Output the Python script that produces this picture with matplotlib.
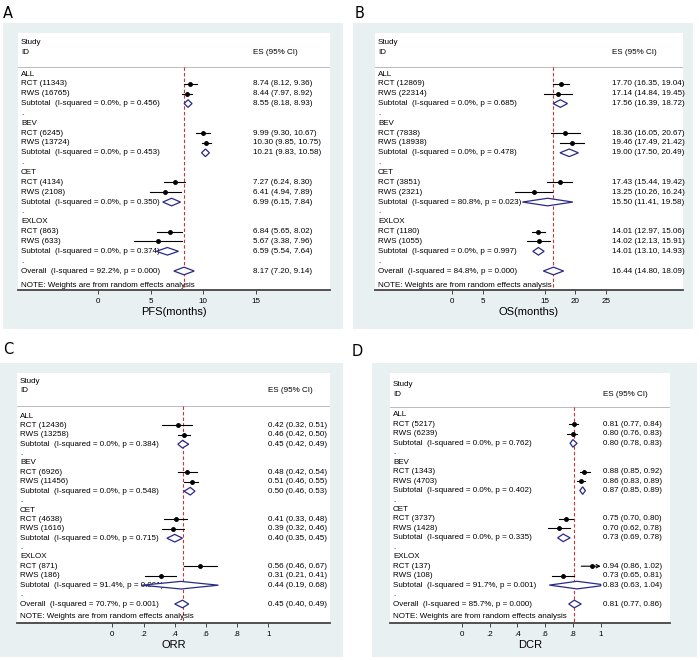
import matplotlib
matplotlib.use('Agg')
import matplotlib.pyplot as plt
from matplotlib import font_manager
from matplotlib.patches import Rectangle, Polygon

groups = ['ALL', 'BEV', 'CET', 'EXLOX']

# A: PFS (months)
pfs_rct_n = [11343, 6245, 4134, 863]
pfs_rws_n = [16765, 13724, 2108, 633]
pfs_rct = [(8.74, 8.12, 9.36), (9.99, 9.30, 10.67), (7.27, 6.24, 8.30), (6.84, 5.65, 8.02)]
pfs_rws = [(8.44, 7.97, 8.92), (10.30, 9.85, 10.75), (6.41, 4.94, 7.89), (5.67, 3.38, 7.96)]
pfs_sub = [(8.55, 8.18, 8.93), (10.21, 9.83, 10.58), (6.99, 6.15, 7.84), (6.59, 5.54, 7.64)]
pfs_sub_i2 = [0.0, 0.0, 0.0, 0.0]
pfs_sub_p = [0.456, 0.453, 0.350, 0.374]
pfs_overall = (8.17, 7.20, 9.14)
pfs_overall_i2, pfs_overall_p = 92.2, 0.000

# B: OS (months)
os_rct_n = [12869, 7838, 3851, 1180]
os_rws_n = [22314, 18938, 2321, 1055]
os_rct = [(17.70, 16.35, 19.04), (18.36, 16.05, 20.67), (17.43, 15.44, 19.42), (14.01, 12.97, 15.06)]
os_rws = [(17.14, 14.84, 19.45), (19.46, 17.49, 21.42), (13.25, 10.26, 16.24), (14.02, 12.13, 15.91)]
os_sub = [(17.56, 16.39, 18.72), (19.00, 17.50, 20.49), (15.50, 11.41, 19.58), (14.01, 13.10, 14.93)]
os_sub_i2 = [0.0, 0.0, 80.8, 0.0]
os_sub_p = [0.685, 0.478, 0.023, 0.997]
os_overall = (16.44, 14.80, 18.09)
os_overall_i2, os_overall_p = 84.8, 0.000

# C: ORR
orr_rct_n = [12436, 6926, 4638, 871]
orr_rws_n = [13258, 11456, 1616, 186]
orr_rct = [(0.42, 0.32, 0.51), (0.48, 0.42, 0.54), (0.41, 0.33, 0.48), (0.56, 0.46, 0.67)]
orr_rws = [(0.46, 0.42, 0.50), (0.51, 0.46, 0.55), (0.39, 0.32, 0.46), (0.31, 0.21, 0.41)]
orr_sub = [(0.45, 0.42, 0.49), (0.50, 0.46, 0.53), (0.40, 0.35, 0.45), (0.44, 0.19, 0.68)]
orr_sub_i2 = [0.0, 0.0, 0.0, 91.4]
orr_sub_p = [0.384, 0.548, 0.715, 0.001]
orr_overall = (0.45, 0.40, 0.49)
orr_overall_i2, orr_overall_p = 70.7, 0.001

# D: DCR
dcr_rct_n = [5217, 1343, 3737, 137]
dcr_rws_n = [6239, 4703, 1428, 108]
dcr_rct = [(0.81, 0.77, 0.84), (0.88, 0.85, 0.92), (0.75, 0.70, 0.80), (0.94, 0.86, 1.02)]
dcr_rws = [(0.80, 0.76, 0.83), (0.86, 0.83, 0.89), (0.70, 0.62, 0.78), (0.73, 0.65, 0.81)]
dcr_sub = [(0.80, 0.78, 0.83), (0.87, 0.85, 0.89), (0.73, 0.69, 0.78), (0.83, 0.63, 1.04)]
dcr_sub_i2 = [0.0, 0.0, 0.0, 91.7]
dcr_sub_p = [0.762, 0.402, 0.335, 0.001]
dcr_overall = (0.81, 0.77, 0.86)
dcr_overall_i2, dcr_overall_p = 85.7, 0.000

prop_ticks = [0, 0.2, 0.4, 0.6, 0.8, 1]
prop_ticklabels = ['0', '.2', '.4', '.6', '.8', '1']

# the Stata text is tall and narrow: use a narrow face when there is one
installed = {f.name for f in font_manager.fontManager.ttflist}
if 'Liberation Sans Narrow' in installed:
    plt.rcParams['font.family'] = ['Liberation Sans Narrow', 'DejaVu Sans']
    FS, FS_LAB = 6.6, 9.3
else:
    plt.rcParams['font.family'] = ['Liberation Sans', 'DejaVu Sans']
    FS, FS_LAB = 5.8, 8.0

W, H = 700, 660
BG = '#e9f0f2'
NAVY = '#2a2a86'

fig = plt.figure(figsize=(7, 6.6), dpi=100)


def fig_rect(l, t, r, b):
    return [l / W, 1 - b / H, (r - l) / W, (b - t) / H]


def diamond(ax, es, lo, hi, y, xmax, h=3.8):
    pts = [(lo, y), (es, y - h)]
    if hi > xmax:
        dh = h * (hi - xmax) / (hi - es)
        pts += [(xmax, y - dh), (xmax, y + dh)]
    else:
        pts += [(hi, y)]
    pts += [(es, y + h)]
    ax.add_patch(Polygon(pts, closed=True, facecolor='white',
                         edgecolor=NAVY, lw=0.9, zorder=3))


def forest(letter, letter_xy, bg, plot, zero, ppu, ticks, ticklabels, xlabel,
           rct_n, rws_n, rct, rws, sub, sub_i2, sub_p,
           overall, overall_i2, overall_p,
           y_study, y_line, y_first, step, y_note, es_px):
    l, t, r, b = plot
    fig.patches.append(Rectangle((bg[0] / W, 1 - bg[3] / H), (bg[2] - bg[0]) / W,
                                 (bg[3] - bg[1]) / H, transform=fig.transFigure,
                                 facecolor=BG, edgecolor='none', zorder=-5))
    fig.text(letter_xy[0] / W, 1 - letter_xy[1] / H, letter, fontsize=10.5,
             ha='center', va='center', family=['DejaVu Sans'])

    ax = fig.add_axes(fig_rect(l, t, r, b))
    ax.set_facecolor('white')
    ax.set_xlim((l - zero) / ppu, (r - zero) / ppu)
    ax.set_ylim(b, t)
    for s in ['top', 'left', 'right']:
        ax.spines[s].set_visible(False)
    ax.spines['bottom'].set_linewidth(1.3)
    ax.spines['bottom'].set_color('#444444')
    ax.set_yticks([])
    ax.set_xticks(ticks)
    ax.set_xticklabels(ticklabels)
    ax.tick_params(axis='x', length=3, width=0.7, pad=3, labelsize=FS,
                   color='#444444')
    ax.set_xlabel(xlabel, fontsize=FS_LAB, labelpad=1)

    def px(x):
        return (x - zero) / ppu

    xl = px(l + 3)
    xr = px(es_px)
    xmax = ticks[-1]

    ax.text(xl, y_study, 'Study', fontsize=FS, va='center')
    ax.text(xl, y_study + 9, 'ID', fontsize=FS, va='center')
    ax.text(xr, y_study + 9, 'ES (95% CI)', fontsize=FS, va='center')
    ax.axhline(y_line, color='#b0b0b0', lw=0.6)

    def es_text(v):
        return '%.2f (%.2f, %.2f)' % v

    for g, name in enumerate(groups):
        y0 = y_first + 5 * g * step
        ax.text(xl, y0, name, fontsize=FS, va='center')
        for k, (lab, n, v) in enumerate([('RCT', rct_n[g], rct[g]),
                                         ('RWS', rws_n[g], rws[g])]):
            y = y0 + (k + 1) * step
            es, lo, hi = v
            ax.text(xl, y, '%s (%d)' % (lab, n), fontsize=FS, va='center')
            ax.text(xr, y, es_text(v), fontsize=FS, va='center')
            if hi > xmax:
                ax.annotate('', xy=(xmax, y), xytext=(lo, y),
                            arrowprops=dict(arrowstyle='->', lw=0.8, color='k',
                                            shrinkA=0, shrinkB=0,
                                            mutation_scale=6))
            else:
                ax.plot([lo, hi], [y, y], color='k', lw=0.8, zorder=4)
            ax.plot(es, y, 'o', color='k', ms=2.5, zorder=5)
        y = y0 + 3 * step
        ax.text(xl, y, 'Subtotal  (I-squared = %.1f%%, p = %.3f)' % (sub_i2[g], sub_p[g]),
                fontsize=FS, va='center')
        ax.text(xr, y, es_text(sub[g]), fontsize=FS, va='center')
        diamond(ax, sub[g][0], sub[g][1], sub[g][2], y, xmax)
        ax.text(xl, y0 + 4 * step, '.', fontsize=FS, va='center')

    y = y_first + 20 * step
    ax.text(xl, y, 'Overall  (I-squared = %.1f%%, p = %.3f)' % (overall_i2, overall_p),
            fontsize=FS, va='center')
    ax.text(xr, y, es_text(overall), fontsize=FS, va='center')
    diamond(ax, overall[0], overall[1], overall[2], y, xmax)
    ax.text(xl, y_note, 'NOTE: Weights are from random effects analysis',
            fontsize=FS, va='center')
    ax.plot([overall[0]] * 2, [y_line, b], color='#d03030', lw=0.8,
            ls=(0, (3, 2)), zorder=2)


forest('A', (8, 13), (3, 23, 343, 329), (18, 33, 330, 290), 98, 10.53,
       [0, 5, 10, 15], ['0', '5', '10', '15'], 'PFS(months)',
       pfs_rct_n, pfs_rws_n, pfs_rct, pfs_rws, pfs_sub, pfs_sub_i2, pfs_sub_p,
       pfs_overall, pfs_overall_i2, pfs_overall_p,
       43, 67, 74, 9.85, 285, 253)

forest('B', (360, 13), (353, 23, 693, 329), (375, 33, 683, 290), 452, 6.17,
       [0, 5, 15, 20, 25], ['0', '5', '15', '20', '25'], 'OS(months)',
       os_rct_n, os_rws_n, os_rct, os_rws, os_sub, os_sub_i2, os_sub_p,
       os_overall, os_overall_i2, os_overall_p,
       43, 67, 74, 9.85, 285, 612)

forest('C', (8, 350), (0, 363, 343, 657), (17, 373, 330, 623), 112.3, 156,
       prop_ticks, prop_ticklabels, 'ORR',
       orr_rct_n, orr_rws_n, orr_rct, orr_rws, orr_sub, orr_sub_i2, orr_sub_p,
       orr_overall, orr_overall_i2, orr_overall_p,
       382, 406, 416, 9.4, 617, 268)

forest('D', (357, 352), (372, 363, 697, 657), (390, 373, 670, 623), 461.7, 139,
       prop_ticks, prop_ticklabels, 'DCR',
       dcr_rct_n, dcr_rws_n, dcr_rct, dcr_rws, dcr_sub, dcr_sub_i2, dcr_sub_p,
       dcr_overall, dcr_overall_i2, dcr_overall_p,
       385, 407, 415, 9.45, 616, 603)

fig.savefig('out.png', dpi=100)
